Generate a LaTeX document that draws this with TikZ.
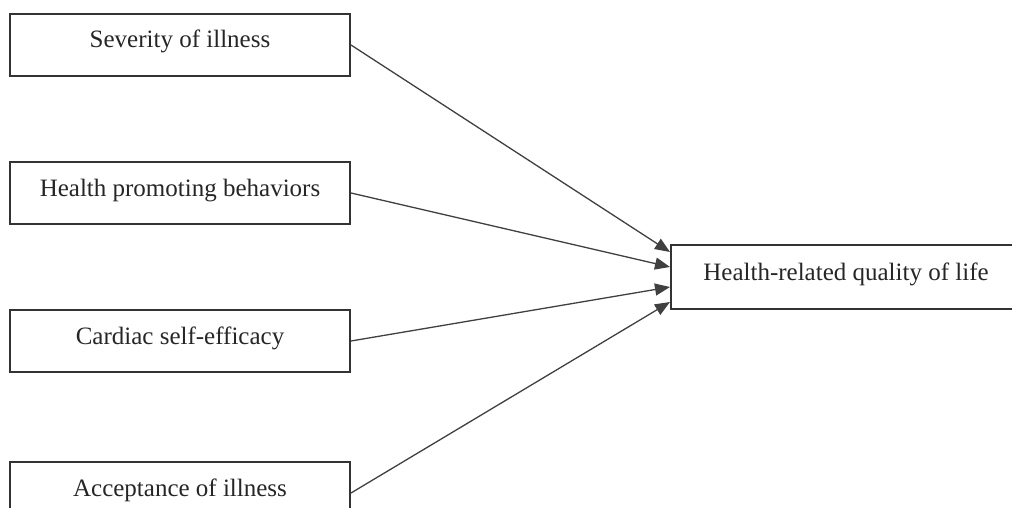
\documentclass[tikz,border=0pt]{standalone}
\usepackage{fontspec}
\setmainfont{Liberation Serif}
\usetikzlibrary{positioning,arrows.meta}

\begin{document}
\begin{tikzpicture}[
  factor/.style={draw=black!80, line width=2pt, minimum width=340pt, minimum height=62pt,
    text=black!85, font=\fontsize{25}{30}\selectfont, text height=18pt, text depth=12pt},
  effect/.style={-{Triangle[length=15pt,width=12pt]}, draw=black!75, line width=1.3pt}
]
\useasboundingbox (0pt,0pt) rectangle (1012pt,-508pt);
\clip (0pt,0pt) rectangle (1012pt,-508pt);

\node[factor] (sev) at (180pt,-45pt) {Severity of illness};
\node[factor, below=84pt of sev] (hpb) {Health promoting behaviors};
\node[factor, below=84pt of hpb] (cse) {Cardiac self-efficacy};
\node[factor, below=88pt of cse] (acc) {Acceptance of illness};

\node[factor, minimum width=350pt, minimum height=64pt] (hrql) at (846pt,-277pt) {Health-related quality of life};

%each factor points to the outcome
\draw[effect] (sev.east) -- ([yshift=25pt]hrql.west);
\draw[effect] (hpb.east) -- ([yshift=10pt]hrql.west);
\draw[effect] (cse.east) -- ([yshift=-10pt]hrql.west);
\draw[effect] (acc.east) -- ([yshift=-25pt]hrql.west);
\end{tikzpicture}
\end{document}
